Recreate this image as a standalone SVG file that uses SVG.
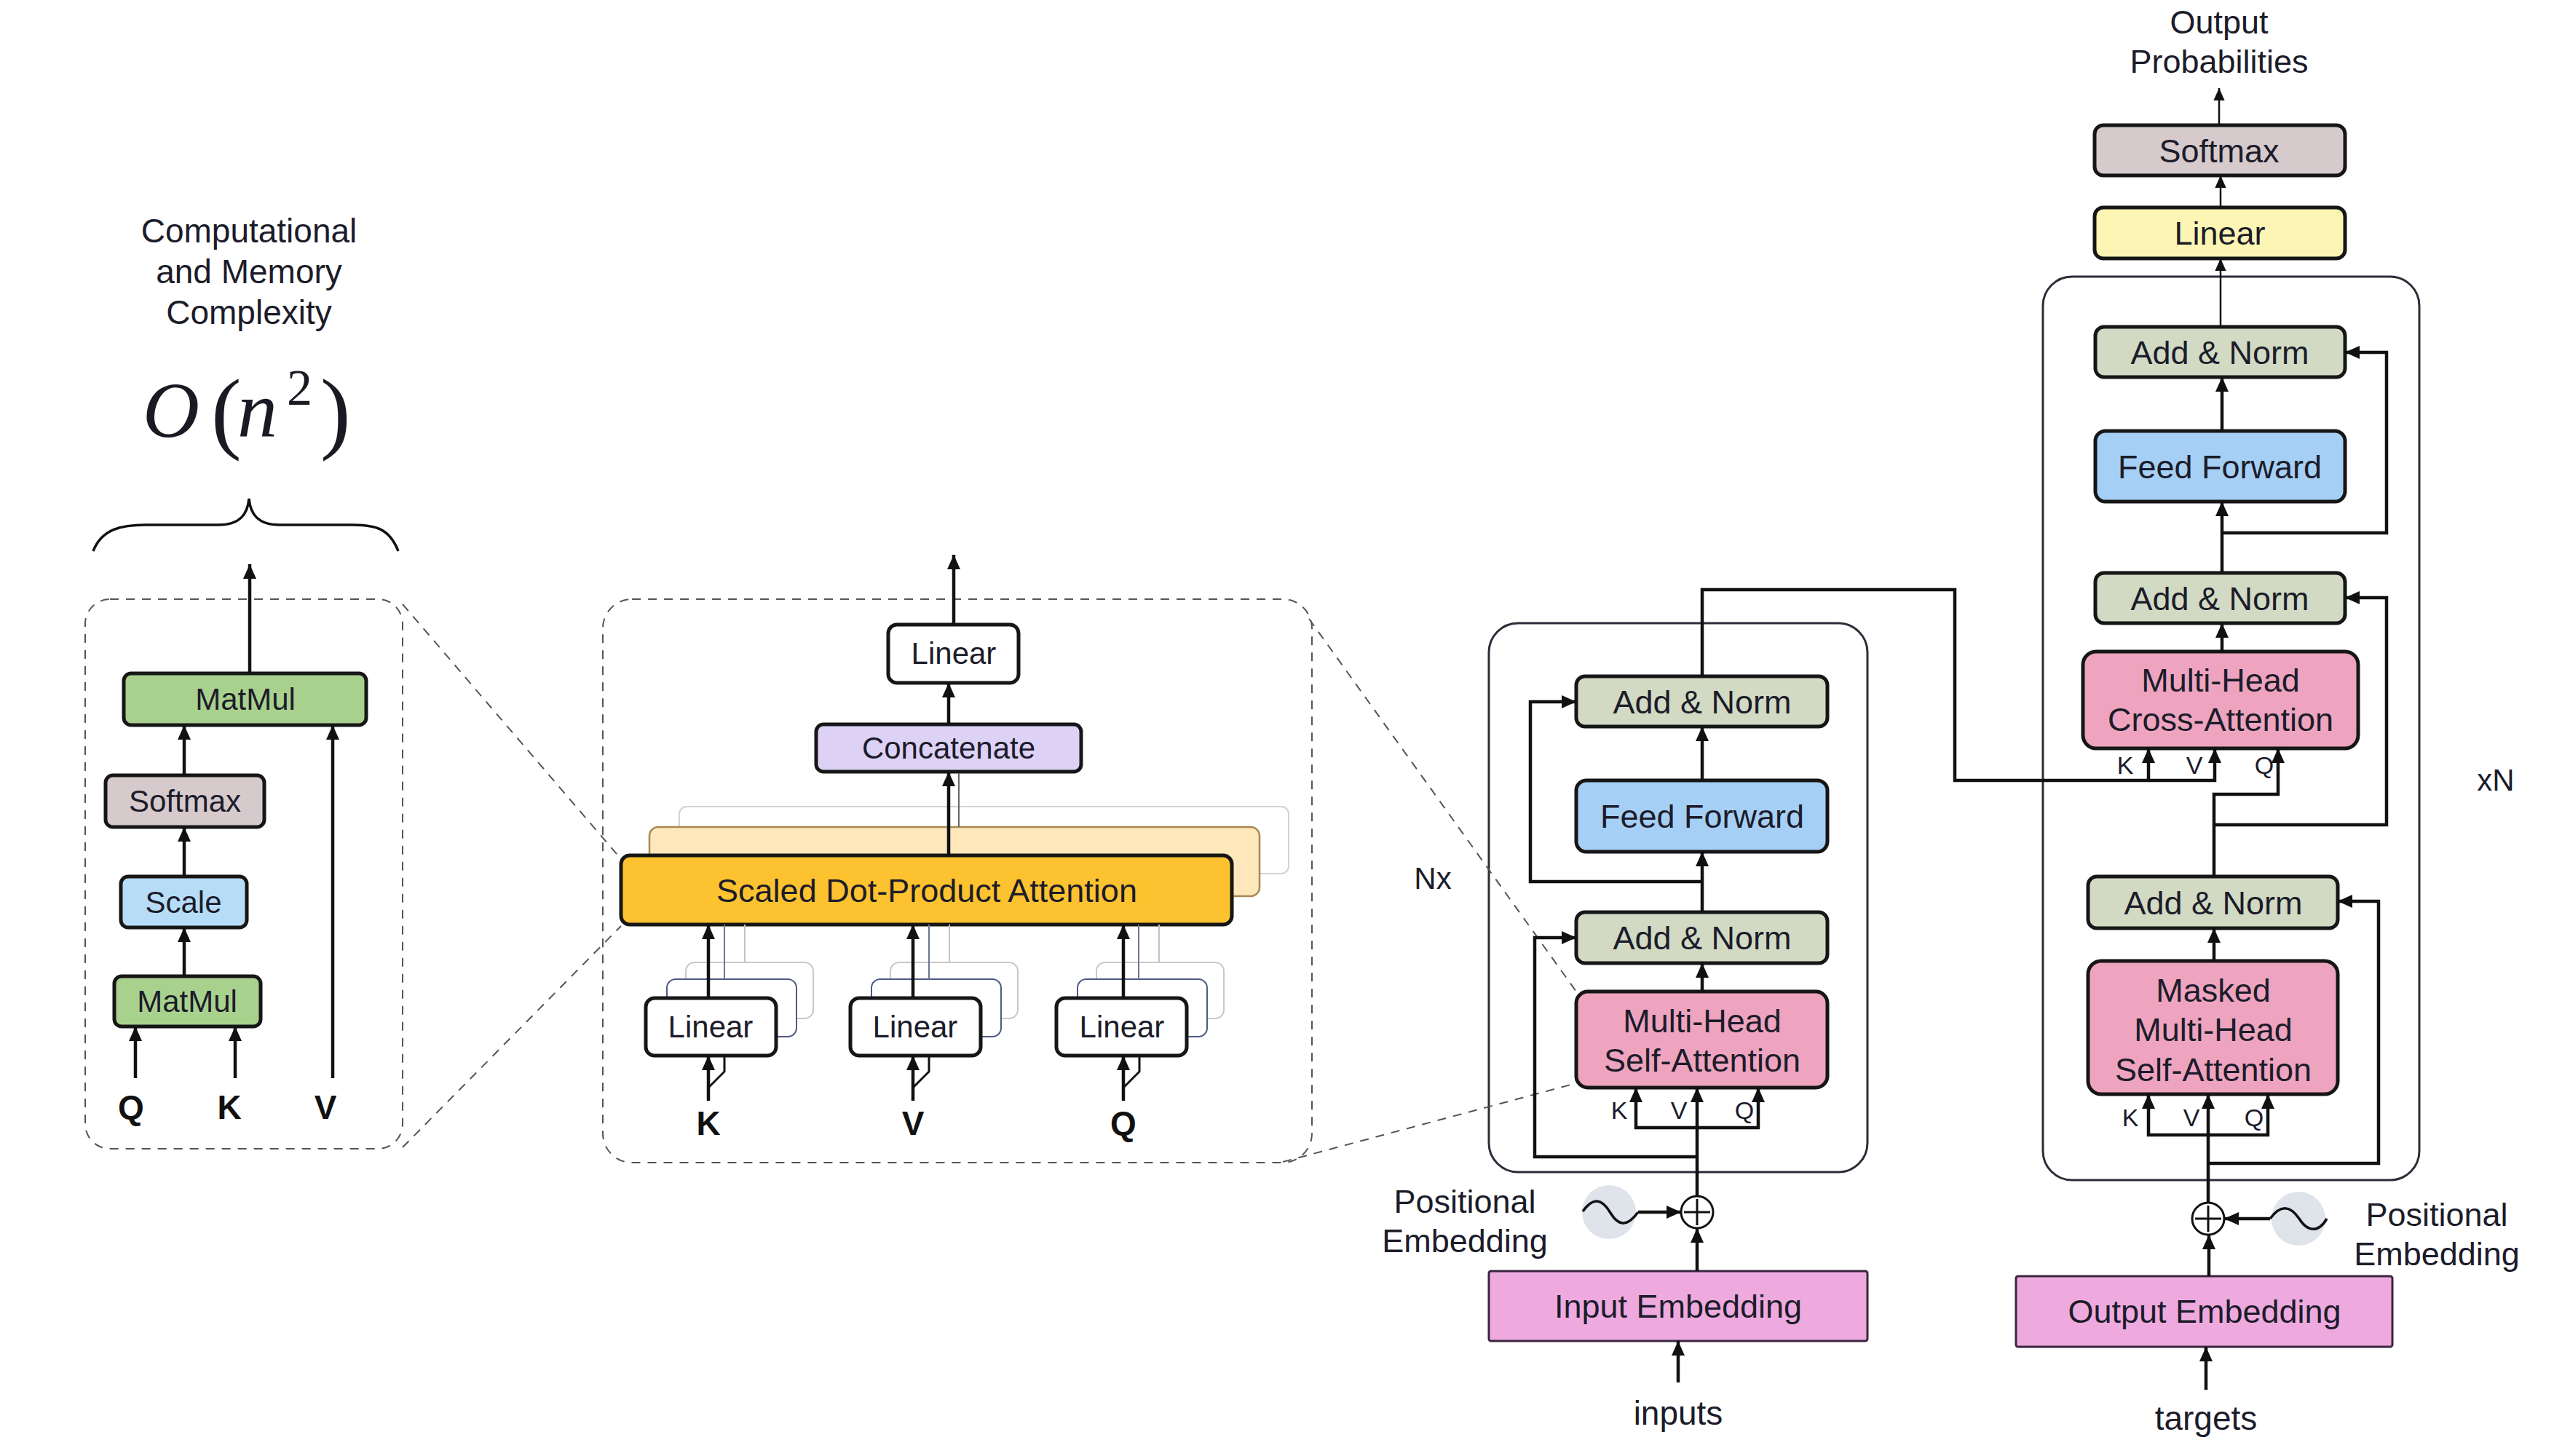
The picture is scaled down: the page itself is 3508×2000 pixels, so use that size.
<svg xmlns="http://www.w3.org/2000/svg" width="3508" height="2000" viewBox="0 0 3508 2000">
<style>
.t{font-family:"Liberation Sans",Arial,sans-serif;fill:#1c1c2a;text-anchor:middle}
.s45{font-size:45px}.s42{font-size:42px}.s46{font-size:46px}.s34{font-size:34px}
.b{font-weight:bold;font-size:46px;fill:#111}
.box{stroke:#161616;stroke-width:5}
.emb{stroke:#3a2540;stroke-width:3}
.frame{fill:none;stroke:#2a2e38;stroke-width:3}
.c{fill:none;stroke:#111;stroke-width:4.5;marker-end:url(#ah)}
.thin{fill:none;stroke:#111;stroke-width:2.5;marker-end:url(#ahs)}
.dash{fill:none;stroke:#555;stroke-width:2;stroke-dasharray:12 10}
.math{font-family:"Liberation Serif","Times New Roman",serif;fill:#1a1a24}
</style>
<defs>
<marker id="ah" viewBox="0 0 20 20" refX="20" refY="10" markerWidth="20" markerHeight="20" markerUnits="userSpaceOnUse" orient="auto"><path d="M0,1 L20,10 L0,19 z" fill="#111"/></marker>
<marker id="ahs" viewBox="0 0 20 20" refX="20" refY="10" markerWidth="17" markerHeight="17" markerUnits="userSpaceOnUse" orient="auto"><path d="M0,1 L20,10 L0,19 z" fill="#111"/></marker>
</defs>
<rect x="0" y="0" width="3508" height="2000" fill="#ffffff"/>

<!-- Left panel: complexity -->
<g id="complexity-label">
<text class="t s46" x="342" y="333">Computational</text>
<text class="t s46" x="342" y="389">and Memory</text>
<text class="t s46" x="342" y="445">Complexity</text>
<text class="math" x="196" y="600" font-size="108" font-style="italic">O</text>
<text class="math" x="290" y="607" font-size="125">(</text>
<text class="math" x="326" y="600" font-size="110" font-style="italic">n</text>
<text class="math" x="394" y="556" font-size="70">2</text>
<text class="math" x="440" y="607" font-size="125">)</text>
<path d="M128,757 C140,726 168,721 200,721 L300,721 C330,721 340,706 342,685 C344,706 354,721 384,721 L484,721 C516,721 535,726 547,757" fill="none" stroke="#111" stroke-width="3.5"/>
</g>
<g id="sdpa-frame"><rect x="117" y="823" width="436" height="755" rx="34" fill="none" stroke="#555" stroke-width="2" stroke-dasharray="12 10"/></g>
<g id="lp-matmul-top"><rect x="170" y="925" width="333" height="71" rx="10" fill="#a9d18e" class="box"/><text class="t s42" x="337" y="975">MatMul</text></g>
<g id="lp-softmax"><rect x="145" y="1065" width="218" height="71" rx="10" fill="#d6cacd" class="box"/><text class="t s42" x="254" y="1115">Softmax</text></g>
<g id="lp-scale"><rect x="166" y="1204" width="173" height="70" rx="10" fill="#b6dcf7" class="box"/><text class="t s42" x="252" y="1254">Scale</text></g>
<g id="lp-matmul-bottom"><rect x="157" y="1341" width="201" height="69" rx="10" fill="#a9d18e" class="box"/><text class="t s42" x="257" y="1390">MatMul</text></g>
<g id="lp-q"><text class="t b" x="180" y="1537">Q</text></g>
<g id="lp-k"><text class="t b" x="315" y="1537">K</text></g>
<g id="lp-v"><text class="t b" x="447" y="1537">V</text></g>

<!-- Middle panel: multi-head attention -->
<g id="mha-frame"><rect x="828" y="823" width="974" height="774" rx="40" fill="none" stroke="#555" stroke-width="2" stroke-dasharray="12 10"/></g>
<g id="mha-linear-out"><rect x="1220" y="858" width="179" height="80" rx="12" fill="#ffffff" class="box"/><text class="t s42" x="1310" y="912">Linear</text></g>
<g id="mha-concat"><rect x="1121" y="995" width="364" height="65" rx="10" fill="#ddd2f6" class="box"/><text class="t s42" x="1303" y="1042">Concatenate</text></g>
<g id="mha-sdpa">
<rect x="933" y="1108" width="837" height="92" rx="10" fill="#ffffff" stroke="#d2d2d2" stroke-width="2"/>
<rect x="892" y="1136" width="838" height="95" rx="12" fill="#fde7bb" stroke="#a8894f" stroke-width="2.5"/>
<rect x="853" y="1175" width="839" height="95" rx="12" fill="#fdc22f" class="box"/>
<text class="t s45" x="1273" y="1239">Scaled Dot-Product Attention</text>
</g>
<g id="mha-linear-k">
<rect x="942" y="1322" width="175" height="77" rx="12" fill="#ffffff" stroke="#c8c8c8" stroke-width="2"/>
<rect x="916" y="1345" width="178" height="79" rx="12" fill="#ffffff" stroke="#4d5a85" stroke-width="2"/>
<rect x="887" y="1371" width="179" height="79" rx="12" fill="#ffffff" class="box"/>
<text class="t s42" x="976" y="1425">Linear</text>
</g>
<g id="mha-linear-v">
<rect x="1223" y="1322" width="175" height="77" rx="12" fill="#ffffff" stroke="#c8c8c8" stroke-width="2"/>
<rect x="1197" y="1345" width="178" height="79" rx="12" fill="#ffffff" stroke="#4d5a85" stroke-width="2"/>
<rect x="1168" y="1371" width="179" height="79" rx="12" fill="#ffffff" class="box"/>
<text class="t s42" x="1257" y="1425">Linear</text>
</g>
<g id="mha-linear-q">
<rect x="1506" y="1322" width="175" height="77" rx="12" fill="#ffffff" stroke="#c8c8c8" stroke-width="2"/>
<rect x="1480" y="1345" width="178" height="79" rx="12" fill="#ffffff" stroke="#4d5a85" stroke-width="2"/>
<rect x="1451" y="1371" width="179" height="79" rx="12" fill="#ffffff" class="box"/>
<text class="t s42" x="1541" y="1425">Linear</text>
</g>
<g id="mha-k"><text class="t b" x="973" y="1559">K</text></g>
<g id="mha-v"><text class="t b" x="1254" y="1559">V</text></g>
<g id="mha-q"><text class="t b" x="1543" y="1559">Q</text></g>

<!-- Encoder -->
<g id="encoder-frame"><rect x="2045" y="856" width="520" height="754" rx="40" class="frame"/></g>
<g id="enc-nx"><text class="t s42" x="1968" y="1221">Nx</text></g>
<g id="enc-addnorm2"><rect x="2165" y="929" width="345" height="69" rx="12" fill="#d2dac3" class="box"/><text class="t s45" x="2338" y="980">Add &amp; Norm</text></g>
<g id="enc-ff"><rect x="2165" y="1072" width="345" height="98" rx="14" fill="#a6cff5" class="box"/><text class="t s45" x="2338" y="1137">Feed Forward</text></g>
<g id="enc-addnorm1"><rect x="2165" y="1253" width="345" height="70" rx="12" fill="#d2dac3" class="box"/><text class="t s45" x="2338" y="1304">Add &amp; Norm</text></g>
<g id="enc-mhsa"><rect x="2165" y="1362" width="345" height="132" rx="16" fill="#eea4bf" class="box"/><text class="t s45" x="2338" y="1418">Multi-Head</text><text class="t s45" x="2338" y="1472">Self-Attention</text></g>
<g id="enc-kvq"><text class="t s34" x="2224" y="1537">K</text><text class="t s34" x="2306" y="1537">V</text><text class="t s34" x="2396" y="1537">Q</text></g>
<g id="enc-add"><circle cx="2331" cy="1665" r="22" fill="#ffffff" stroke="#111" stroke-width="3"/><path d="M2331,1647 V1683 M2313,1665 H2349" stroke="#111" stroke-width="3"/></g>
<g id="enc-posenc"><circle cx="2210" cy="1665" r="37" fill="#dfe3ea"/><path d="M2174,1664 C2188,1644 2200,1646 2212,1666 C2224,1686 2236,1684 2250,1665" fill="none" stroke="#111" stroke-width="3.5"/></g>
<g id="enc-poslabel"><text class="t s45" x="2012" y="1666">Positional</text><text class="t s45" x="2012" y="1720">Embedding</text></g>
<g id="enc-embedding"><rect x="2045" y="1746" width="520" height="96" rx="3" fill="#eeaade" class="emb"/><text class="t s45" x="2305" y="1810">Input Embedding</text></g>
<g id="enc-inputs"><text class="t s46" x="2305" y="1957">inputs</text></g>

<!-- Decoder -->
<g id="dec-outprob"><text class="t s45" x="3048" y="46">Output</text><text class="t s45" x="3048" y="100">Probabilities</text></g>
<g id="dec-softmax"><rect x="2877" y="172" width="344" height="69" rx="12" fill="#d6cacd" class="box"/><text class="t s45" x="3048" y="223">Softmax</text></g>
<g id="dec-linear"><rect x="2877" y="285" width="344" height="70" rx="12" fill="#fcf5b3" class="box"/><text class="t s45" x="3049" y="336">Linear</text></g>
<g id="decoder-frame"><rect x="2806" y="380" width="517" height="1241" rx="40" class="frame"/></g>
<g id="dec-xn"><text class="t s42" x="3428" y="1086">xN</text></g>
<g id="dec-addnorm3"><rect x="2878" y="449" width="343" height="69" rx="12" fill="#d2dac3" class="box"/><text class="t s45" x="3049" y="500">Add &amp; Norm</text></g>
<g id="dec-ff"><rect x="2878" y="592" width="343" height="97" rx="14" fill="#a6cff5" class="box"/><text class="t s45" x="3049" y="657">Feed Forward</text></g>
<g id="dec-addnorm2"><rect x="2878" y="787" width="343" height="69" rx="12" fill="#d2dac3" class="box"/><text class="t s45" x="3049" y="838">Add &amp; Norm</text></g>
<g id="dec-cross"><rect x="2861" y="895" width="378" height="133" rx="18" fill="#eea4bf" class="box"/><text class="t s45" x="3050" y="950">Multi-Head</text><text class="t s45" x="3050" y="1004">Cross-Attention</text></g>
<g id="dec-cross-kvq"><text class="t s34" x="2919" y="1063">K</text><text class="t s34" x="3014" y="1063">V</text><text class="t s34" x="3110" y="1063">Q</text></g>
<g id="dec-addnorm1"><rect x="2868" y="1204" width="343" height="71" rx="12" fill="#d2dac3" class="box"/><text class="t s45" x="3040" y="1256">Add &amp; Norm</text></g>
<g id="dec-masked"><rect x="2868" y="1320" width="343" height="183" rx="18" fill="#eea4bf" class="box"/><text class="t s45" x="3040" y="1376">Masked</text><text class="t s45" x="3040" y="1430">Multi-Head</text><text class="t s45" x="3040" y="1485">Self-Attention</text></g>
<g id="dec-masked-kvq"><text class="t s34" x="2926" y="1547">K</text><text class="t s34" x="3010" y="1547">V</text><text class="t s34" x="3096" y="1547">Q</text></g>
<g id="dec-add"><circle cx="3033" cy="1674" r="22" fill="#ffffff" stroke="#111" stroke-width="3"/><path d="M3033,1656 V1692 M3015,1674 H3051" stroke="#111" stroke-width="3"/></g>
<g id="dec-posenc"><circle cx="3157" cy="1674" r="37" fill="#dfe3ea"/><path d="M3118,1674 C3132,1655 3145,1655 3158,1674 C3170,1693 3185,1693 3196,1674" fill="none" stroke="#111" stroke-width="3.5"/></g>
<g id="dec-poslabel"><text class="t s45" x="3347" y="1684">Positional</text><text class="t s45" x="3347" y="1738">Embedding</text></g>
<g id="dec-embedding"><rect x="2769" y="1753" width="517" height="97" rx="3" fill="#eeaade" class="emb"/><text class="t s45" x="3028" y="1817">Output Embedding</text></g>
<g id="dec-targets"><text class="t s46" x="3030" y="1964">targets</text></g>

<!-- Connectors -->
<g id="connectors">
<path class="dash" d="M553,830 L853,1180"/>
<path class="dash" d="M553,1576 L853,1272"/>
<path class="dash" d="M1798,850 L2165,1362"/>
<path class="dash" d="M1762,1596 L2165,1488"/>
<path class="c" d="M186,1481 V1410"/>
<path class="c" d="M323,1481 V1410"/>
<path class="c" d="M457,1481 V996"/>
<path class="c" d="M253,1341 V1274"/>
<path class="c" d="M253,1204 V1136"/>
<path class="c" d="M253,1065 V996"/>
<path class="c" d="M343,925 V775"/>
<path class="c" d="M1310,858 V762"/>
<path class="c" d="M1303,995 V938"/>
<path class="c" d="M1303,1175 V1060"/>
<path d="M1317,1136 V1062" stroke="#666" stroke-width="2" fill="none"/>
<path class="c" d="M973,1371 V1270"/>
<path class="c" d="M1254,1371 V1270"/>
<path class="c" d="M1543,1371 V1270"/>
<path d="M995,1270 V1345 M1276,1270 V1345 M1564,1270 V1345" stroke="#6a7598" stroke-width="2" fill="none"/>
<path d="M1023,1270 V1322 M1304,1270 V1322 M1592,1270 V1322" stroke="#c4c4c4" stroke-width="2" fill="none"/>
<path class="c" d="M973,1512 V1450"/>
<path class="c" d="M1254,1512 V1450"/>
<path class="c" d="M1543,1512 V1450"/>
<path d="M973,1494 L995,1472 V1452 M1254,1494 L1276,1472 V1452 M1543,1494 L1565,1472 V1452" stroke="#111" stroke-width="3" fill="none"/>
<path class="c" d="M2305,1899 V1842"/>
<path class="c" d="M2331,1746 V1687"/>
<path class="c" d="M2250,1665 H2309"/>
<path class="c" d="M2331,1643 V1494"/>
<path class="c" d="M2331,1549 H2247 V1494"/>
<path class="c" d="M2331,1549 H2415 V1494"/>
<path class="c" d="M2331,1589 H2108 V1288 H2165"/>
<path class="c" d="M2338,1362 V1323"/>
<path class="c" d="M2338,1253 V1170"/>
<path class="c" d="M2338,1211 H2102 V964 H2165"/>
<path class="c" d="M2338,1072 V998"/>
<path class="c" d="M2338,929 V810 H2685 V1072 H3042 V1028"/>
<path class="c" d="M2951,1072 V1028"/>
<path class="c" d="M3030,1909 V1850"/>
<path class="c" d="M3034,1753 V1696"/>
<path class="c" d="M3118,1674 H3055"/>
<path class="c" d="M3033,1652 V1503"/>
<path class="c" d="M3033,1559 H2951 V1503"/>
<path class="c" d="M3033,1559 H3115 V1503"/>
<path class="c" d="M3033,1598 H3267 V1238 H3211"/>
<path class="c" d="M3041,1320 V1275"/>
<path class="c" d="M3041,1204 V1091 H3129 V1028"/>
<path class="c" d="M3041,1133 H3278 V821 H3221"/>
<path class="c" d="M3052,895 V856"/>
<path class="c" d="M3052,787 V689"/>
<path class="c" d="M3052,732 H3278 V484 H3221"/>
<path class="c" d="M3052,592 V518"/>
<path class="thin" d="M3050,449 V355"/>
<path class="thin" d="M3050,285 V241"/>
<path class="thin" d="M3048,172 V121"/>
</g>
</svg>
